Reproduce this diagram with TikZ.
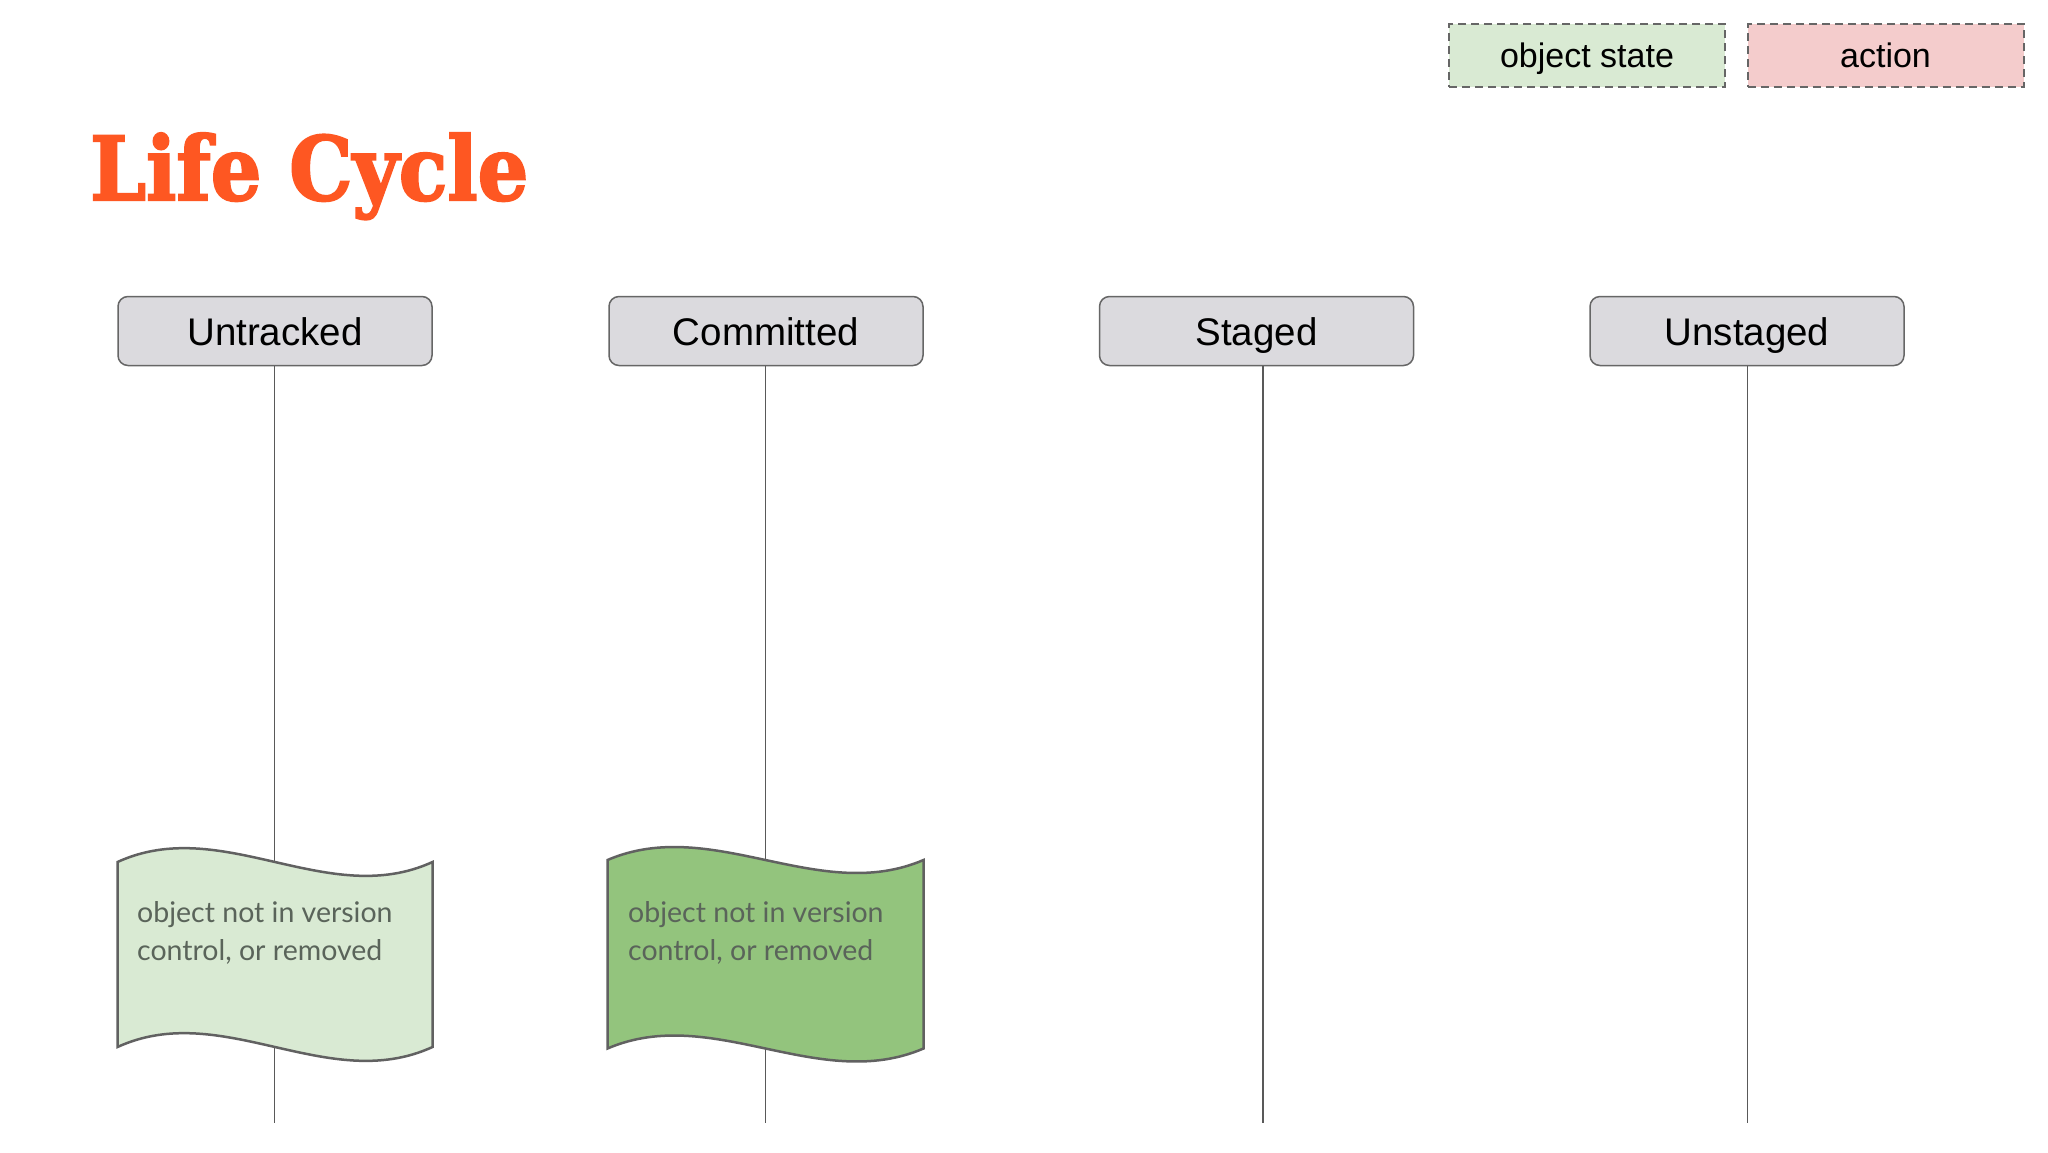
\documentclass[tikz,border=0pt]{standalone}
\usepackage{fontspec}
\setmainfont{Liberation Sans}
\newfontfamily\latofont{Lato}
\newfontfamily\titlefont[BoldFeatures={FakeBold=2.5}]{DejaVu Serif}
\usepackage{graphicx}
\definecolor{titleorange}{HTML}{FE5722}
\definecolor{hdrfill}{HTML}{DBDADE}
\definecolor{edgegray}{HTML}{666666}
\definecolor{linegray}{HTML}{595959}
\definecolor{lightgreen}{HTML}{D9EAD3}
\definecolor{midgreen}{HTML}{93C47D}
\definecolor{lightpink}{HTML}{F4CCCC}
\definecolor{doctext}{HTML}{5A645A}
\tikzset{
  hdrbox/.style={draw=edgegray, line width=1.5pt, fill=hdrfill, rounded corners=10pt,
    minimum width=314pt, minimum height=69pt, inner sep=0pt,
    text height=28pt, text depth=0pt,
    font=\fontsize{38.5}{44}\selectfont, text=black},
  legendbox/.style={draw=edgegray, line width=2pt, dash pattern=on 8pt off 5pt,
    minimum width=276pt, minimum height=63pt, inner sep=0pt,
    text height=23pt, text depth=0pt,
    font=\fontsize{34}{40}\selectfont, text=black},
  lifeline/.style={draw=linegray, line width=1.6pt},
  docshape/.style={draw=black!62, line width=2.5pt},
  doctxt/.style={anchor=north west, inner sep=0pt, align=left, text=doctext,
    font=\latofont\fontsize{28.5}{38}\selectfont}
}
\begin{document}
\begin{tikzpicture}[x=1pt,y=-1pt]
\useasboundingbox[fill=white] (0,0) rectangle (2048,1152);

% title
\node[anchor=base west, inner sep=0pt, text=titleorange] (title) at (90,200)
  {\resizebox{438pt}{67pt}{\titlefont\bfseries Life Cycle}};

% legend
\node[legendbox, fill=lightgreen] (leg1) at (1587,55.5) {object state};
\node[legendbox, fill=lightpink] (leg2) at (1885.5,55.5) {action};

% headers
\node[hdrbox] (untr) at (275,331) {Untracked};
\node[hdrbox] (comm) at (766,331) {Committed};
\node[hdrbox] (stag) at (1256.5,331) {Staged};
\node[hdrbox] (unst) at (1747,331) {Unstaged};

% lifeline ends
\coordinate (untrend) at (274.5,1123);
\coordinate (commend) at (765.5,1123);
\coordinate (stagend) at (1263,1123);
\coordinate (unstend) at (1747.5,1123);

\draw[lifeline] (untr.south -| untrend) -- (untrend);
\draw[lifeline] (comm.south -| commend) -- (commend);
\draw[lifeline] (stag.south -| stagend) -- (stagend);
\draw[lifeline] (unst.south -| unstend) -- (unstend);

% documents (object states)
\path[docshape, fill=lightgreen]
  (117.5,862) .. controls (222.5,814) and (327.5,910) .. (432.5,862)
  -- (432.5,1047) .. controls (327.5,1095) and (222.5,999) .. (117.5,1047) -- cycle;
\node[doctxt] (untrtxt) at (137,901) {object not in version\\control, or removed};

\path[docshape, fill=midgreen]
  (607.5,860) .. controls (712.5,815) and (818.5,905) .. (923.5,860)
  -- (923.5,1048.5) .. controls (818.5,1093.5) and (712.5,1003.5) .. (607.5,1048.5) -- cycle;
\node[doctxt] (commtxt) at (628,901) {object not in version\\control, or removed};
\end{tikzpicture}
\end{document}
